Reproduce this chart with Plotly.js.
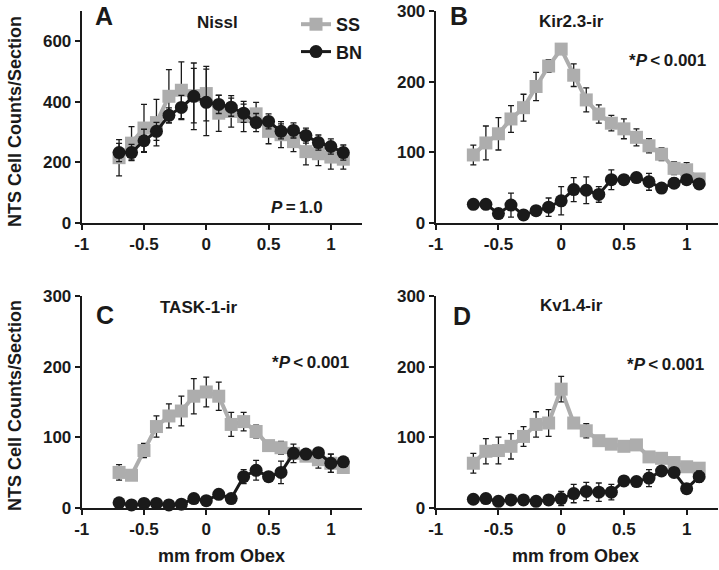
<!DOCTYPE html>
<html>
<head>
<meta charset="utf-8">
<script src="https://cdn.plot.ly/plotly-3.0.1.min.js"></script>
<style>html,body{margin:0;padding:0;background:#fff;}</style>
</head>
<body>
<div id="chart" style="width:719px;height:570px;"></div>
<script>
// Distance from obex (mm)
const positions = [-0.7,-0.6,-0.5,-0.4,-0.3,-0.2,-0.1,0,0.1,0.2,0.3,0.4,0.5,0.6,0.7,0.8,0.9,1.0,1.1];

// Panel A: Nissl
const nisslSS    = [215,263,313,331,418,438,420,427,362,368,351,360,302,291,268,235,228,217,210];
const nisslSSerr = [60,55,78,77,88,94,90,90,60,52,50,38,41,43,33,44,39,40,33];
const nisslBN    = [232,232,271,302,355,381,418,398,391,382,362,331,335,302,305,288,265,252,232];
const nisslBNerr = [30,27,38,30,25,40,110,110,30,30,30,30,25,25,25,25,25,25,25];

// Panel B: Kir2.3-ir
const kirSS    = [96,113,126,147,163,193,222,246,209,174,154,141,133,121,109,97,77,75,62];
const kirSSerr = [14,24,23,19,19,20,9,5,16,17,13,11,14,12,10,9,9,10,5];
const kirBN    = [26,26,13,25,11,17,22,31,47,46,40,61,61,64,58,49,56,61,55];
const kirBNerr = [5,3,5,17,5,5,13,20,17,19,11,14,5,6,12,5,7,5,5];

// Panel C: TASK-1-ir
const taskSS    = [50,46,81,115,130,137,158,164,158,118,122,108,88,85,77,73,68,63,57];
const taskSSerr = [11,3,10,15,17,21,25,21,20,17,13,9,3,9,13,5,12,13,4];
const taskBN    = [7,4,6,6,4,5,13,10,19,13,44,53,44,50,77,76,78,63,65];
const taskBNerr = [2,2,2,2,2,2,3,3,3,3,10,14,5,16,5,5,5,13,5];

// Panel D: Kv1.4-ir
const kvSS    = [63,80,81,87,101,118,120,168,120,109,95,90,87,89,72,70,64,58,56];
const kvSSerr = [14,18,19,18,14,18,19,18,3,10,3,3,3,3,3,3,3,6,8];
const kvBN    = [12,13,9,11,11,9,11,13,20,23,22,22,38,37,42,52,50,27,44];
const kvBNerr = [3,7,3,3,3,3,3,10,13,13,13,11,3,5,12,3,3,3,8];

const xTickVals = [-1,-0.5,0,0.5,1];
const xTickText = ['-1','-0.5','0','0.5','1'];
const yTicksA = [0,200,400,600];
const yTicksB = [0,100,200,300];

const W = 719, H = 570;
const px = v => v / W;
const py = v => 1 - v / H;
const FONT = 'Liberation Sans, Arial, Helvetica, sans-serif';
const INK = '#1a1a1a';
const GRAY = '#adadad';

function ssTrace(y, err, xa, ya, show) {
  return {x: positions, y: y, xaxis: xa, yaxis: ya, type: 'scatter', mode: 'lines+markers',
    name: 'SS', legendgroup: 'ss', showlegend: show, cliponaxis: false,
    line: {color: GRAY, width: 4},
    marker: {symbol: 'square', size: 13, color: GRAY},
    error_y: {type: 'data', array: err, visible: true, color: INK, thickness: 1.3, width: 3}};
}
function bnTrace(y, err, xa, ya, show) {
  return {x: positions, y: y, xaxis: xa, yaxis: ya, type: 'scatter', mode: 'lines+markers',
    name: 'BN', legendgroup: 'bn', showlegend: show, cliponaxis: false,
    line: {color: INK, width: 3},
    marker: {symbol: 'circle', size: 13, color: INK},
    error_y: {type: 'data', array: err, visible: true, color: INK, thickness: 1.3, width: 3}};
}

const data = [
  ssTrace(nisslSS, nisslSSerr, 'x', 'y', true),
  bnTrace(nisslBN, nisslBNerr, 'x', 'y', true),
  ssTrace(kirSS, kirSSerr, 'x2', 'y2', false),
  bnTrace(kirBN, kirBNerr, 'x2', 'y2', false),
  ssTrace(taskSS, taskSSerr, 'x3', 'y3', false),
  bnTrace(taskBN, taskBNerr, 'x3', 'y3', false),
  ssTrace(kvSS, kvSSerr, 'x4', 'y4', false),
  bnTrace(kvBN, kvBNerr, 'x4', 'y4', false)
];

function xAxis(domain, anchor) {
  return {domain: domain, anchor: anchor, range: [-1, 1.25], tickvals: xTickVals, ticktext: xTickText,
    showline: true, linecolor: INK, linewidth: 2, ticks: 'outside', ticklen: 5, tickwidth: 2, tickcolor: INK,
    showgrid: false, zeroline: false, fixedrange: true,
    tickfont: {family: FONT, size: 17, color: INK, weight: 'bold'}};
}
function yAxis(domain, anchor, range, ticks) {
  return {domain: domain, anchor: anchor, range: range, tickvals: ticks,
    showline: true, linecolor: INK, linewidth: 2, ticks: 'outside', ticklen: 5, tickwidth: 2, tickcolor: INK,
    showgrid: false, zeroline: false, fixedrange: true,
    tickfont: {family: FONT, size: 17, color: INK, weight: 'bold'}};
}

const leftX = [px(81.7), px(362)];
const rightX = [px(435.7), px(718)];
const topY = [py(222.7), py(11)];
const botY = [py(507.7), py(296)];

function ann(text, x, y, size, opts) {
  return Object.assign({text: text, x: px(x), y: py(y), xref: 'paper', yref: 'paper', showarrow: false,
    xanchor: 'center', yanchor: 'middle', font: {family: FONT, size: size, color: INK, weight: 'bold'}}, opts || {});
}

const annotations = [
  ann('A', 104, 16, 25),
  ann('B', 459, 16, 25),
  ann('C', 105, 315, 25),
  ann('D', 462, 316, 25),
  ann('Nissl', 217, 22, 17),
  ann('Kir2.3-ir', 571, 21, 17),
  ann('TASK-1-ir', 199, 307, 17),
  ann('Kv1.4-ir', 571, 305, 17),
  ann('<i>P</i>\u2009=\u20091.0', 297, 207, 17),
  ann('*<i>P</i>\u2009&lt;\u20090.001', 667, 60, 17),
  ann('*<i>P</i>\u2009&lt;\u20090.001', 310, 362, 17),
  ann('*<i>P</i>\u2009&lt;\u20090.001', 665, 364, 17),
  ann('mm from Obex', 221, 556, 18),
  ann('mm from Obex', 575, 556, 18),
  ann('NTS Cell Counts/Section', 15, 122, 18, {textangle: -90}),
  ann('NTS Cell Counts/Section', 15, 406, 18, {textangle: -90})
];

const layout = {
  width: W, height: H,
  margin: {l: 0, r: 0, t: 0, b: 0},
  paper_bgcolor: '#ffffff', plot_bgcolor: '#ffffff',
  font: {family: FONT, color: INK},
  showlegend: true,
  legend: {x: px(296), y: py(6), xanchor: 'left', yanchor: 'top', bgcolor: 'rgba(0,0,0,0)',
    traceorder: 'grouped', tracegroupgap: 1,
    font: {family: FONT, size: 18, color: INK, weight: 'bold'}},
  xaxis: xAxis(leftX, 'y'), yaxis: yAxis(topY, 'x', [0, 700], yTicksA),
  xaxis2: xAxis(rightX, 'y2'), yaxis2: yAxis(topY, 'x2', [0, 300], yTicksB),
  xaxis3: xAxis(leftX, 'y3'), yaxis3: yAxis(botY, 'x3', [0, 300], yTicksB),
  xaxis4: xAxis(rightX, 'y4'), yaxis4: yAxis(botY, 'x4', [0, 300], yTicksB),
  annotations: annotations
};

Plotly.newPlot('chart', data, layout, {staticPlot: true, displayModeBar: false});
</script>
</body>
</html>
